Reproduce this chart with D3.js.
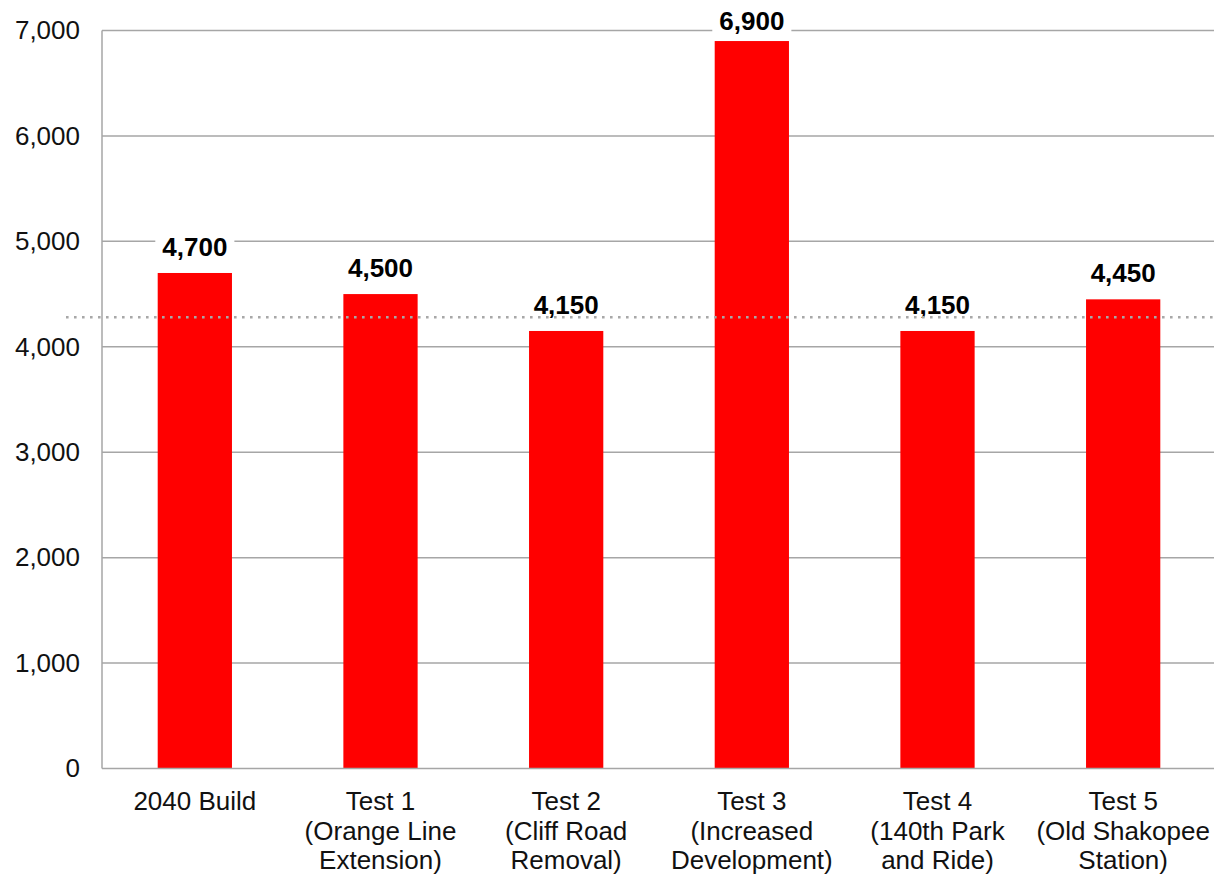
<!DOCTYPE html>
<html>
<head>
<meta charset="utf-8">
<script src="https://cdn.jsdelivr.net/npm/d3@7"></script>
<style>
  html, body { margin: 0; padding: 0; background: #fff; }
  svg { display: block; }
  text { font-family: Arial, "Liberation Sans", sans-serif; }
</style>
</head>
<body>
<svg id="chart" width="1214" height="878"></svg>
<script>
const categories = ["2040 Build", "Test 1", "Test 2", "Test 3", "Test 4", "Test 5"];
const categoryLines = [
  ["2040 Build"],
  ["Test 1", "(Orange Line", "Extension)"],
  ["Test 2", "(Cliff Road", "Removal)"],
  ["Test 3", "(Increased", "Development)"],
  ["Test 4", "(140th Park", "and Ride)"],
  ["Test 5", "(Old Shakopee", "Station)"]
];
const values = [4700, 4500, 4150, 6900, 4150, 4450];
const yTicks = [0, 1000, 2000, 3000, 4000, 5000, 6000, 7000];
const referenceValue = [4280];

(function () {
const svg = d3.select("#chart");
const W = 1214;
const mLeft = 102, mRight = 1216, mTop = 30.5, mBottom = 768.5;

const x = d3.scaleBand().domain(categories).range([mLeft, mRight]).paddingInner(0.6).paddingOuter(0.3);
const y = d3.scaleLinear().domain([0, 7000]).range([mBottom, mTop]);
const fmt = d3.format(",");

// gridlines
svg.append("g").selectAll("line").data(yTicks.filter(d => d > 0)).join("line")
  .attr("x1", mLeft).attr("x2", W)
  .attr("y1", d => y(d)).attr("y2", d => y(d))
  .attr("stroke", "#a6a6a6").attr("stroke-width", 1.5);

// y axis labels
const yAxis = d3.axisLeft(y).tickValues(yTicks).tickFormat(fmt).tickSize(0).tickPadding(22);
const ga = svg.append("g").attr("transform", `translate(${mLeft},0)`).call(yAxis);
ga.select(".domain").remove();
ga.selectAll("text").attr("font-size", 26).attr("fill", "#111")
  .attr("font-family", "Arial, 'Liberation Sans', sans-serif");

// bars
svg.append("g").selectAll("rect").data(values).join("rect")
  .attr("x", (d, i) => x(categories[i]))
  .attr("width", x.bandwidth())
  .attr("y", d => y(d))
  .attr("height", d => y(0) - y(d))
  .attr("fill", "#ff0000");

// axes lines
svg.append("line").attr("x1", mLeft).attr("x2", mLeft).attr("y1", y(7000)).attr("y2", y(0))
  .attr("stroke", "#a6a6a6").attr("stroke-width", 1.5);
svg.append("line").attr("x1", mLeft).attr("x2", W).attr("y1", y(0)).attr("y2", y(0))
  .attr("stroke", "#a6a6a6").attr("stroke-width", 1.5);

// value labels
const lg = svg.append("g");
values.forEach((v, i) => {
  const cx = x(categories[i]) + x.bandwidth() / 2;
  const by = Math.max(y(v) - 17, 30);
  const g = lg.append("g");
  const t = g.append("text").attr("x", cx).attr("y", by)
    .attr("text-anchor", "middle").attr("font-size", 26).attr("font-weight", "bold")
    .attr("fill", "#000").text(fmt(v));
  const bb = t.node().getBBox();
  g.insert("rect", "text").attr("x", bb.x - 7).attr("y", bb.y).attr("width", bb.width + 14)
    .attr("height", bb.height).attr("fill", "#fff");
});

// reference dotted line (drawn on top)
svg.append("g").selectAll("line").data(referenceValue).join("line")
  .attr("x1", 66).attr("x2", W)
  .attr("y1", d => y(d)).attr("y2", d => y(d))
  .attr("stroke", "#a8a8a8").attr("stroke-width", 2.6)
  .attr("stroke-dasharray", "2.6,5.4");

// category labels
const cg = svg.append("g");
categoryLines.forEach((lines, i) => {
  const cx = x(categories[i]) + x.bandwidth() / 2;
  const t = cg.append("text").attr("x", cx).attr("y", 810)
    .attr("text-anchor", "middle").attr("font-size", 26).attr("fill", "#111");
  lines.forEach((ln, j) => {
    t.append("tspan").attr("x", cx).attr("y", 810 + j * 29.7).text(ln);
  });
});
})();
</script>
</body>
</html>
